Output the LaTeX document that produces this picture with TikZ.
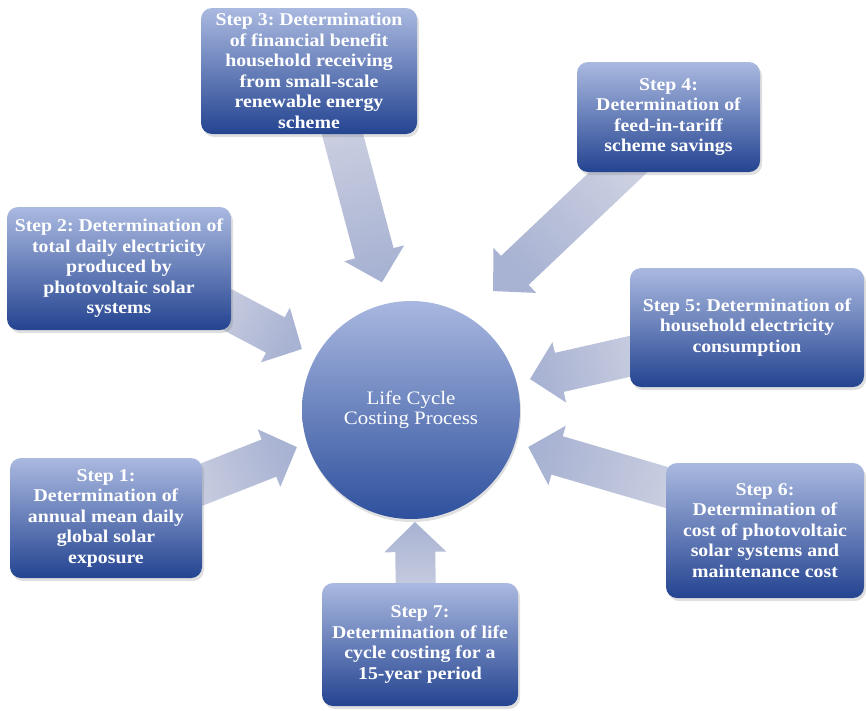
\documentclass[tikz,border=0pt]{standalone}
\usepackage{fontspec}
\setmainfont{Liberation Serif}[FakeStretch=1.1]
\frenchspacing
\usetikzlibrary{calc,shadows,backgrounds}

\definecolor{boxtop}{HTML}{AAB9E0}
\definecolor{boxbot}{HTML}{244491}
\definecolor{hubtop}{HTML}{A8B7DF}
\definecolor{hubbot}{HTML}{2E509D}
\definecolor{arrtail}{HTML}{D0D4E3}
\definecolor{arrtip}{HTML}{A8B2D2}

% Wide block arrow from the tail coordinate #1 to the tip coordinate #2
\newcommand\blockarrow[2]{%
  \pgfmathanglebetweenpoints{\pgfpointanchor{#1}{center}}{\pgfpointanchor{#2}{center}}%
  \edef\bAang{\pgfmathresult}%
  \pgfpointdiff{\pgfpointanchor{#1}{center}}{\pgfpointanchor{#2}{center}}%
  \pgfgetlastxy{\bAx}{\bAy}%
  \pgfmathsetmacro\bAlen{veclen(\bAx,\bAy)}%
  \pgfmathsetmacro\bAbase{\bAlen-30}%
  \pgfmathsetmacro\bAshade{\bAang-90}%
  \shade[top color=arrtip, bottom color=arrtail, shading angle=\bAshade]
    ($(#1)+(\bAang+90:20pt)$)
    -- ($(#1)+(\bAang:\bAbase pt)+(\bAang+90:20pt)$)
    -- ($(#1)+(\bAang:\bAbase pt)+(\bAang+90:31pt)$)
    -- (#2)
    -- ($(#1)+(\bAang:\bAbase pt)+(\bAang-90:31pt)$)
    -- ($(#1)+(\bAang:\bAbase pt)+(\bAang-90:20pt)$)
    -- ($(#1)+(\bAang-90:20pt)$) -- cycle;
}

\begin{document}
\begin{tikzpicture}[x=1pt,y=-1pt,
  stepbox/.style={rounded corners=11pt, top color=boxtop, bottom color=boxbot,
    text=white, align=center, inner sep=0pt,
    font=\bfseries\fontsize{18}{20.5}\selectfont,
    drop shadow={shadow xshift=2pt, shadow yshift=-3pt, opacity=0.25}},
  hub/.style={circle, top color=hubtop, bottom color=hubbot, text=white,
    align=center, minimum size=218pt, inner sep=0pt,
    font=\fontsize{19}{20.5}\selectfont,
    drop shadow={shadow xshift=1pt, shadow yshift=-3pt, opacity=0.25}}
]
\useasboundingbox (0,0) rectangle (866,710);

% central process
\node[hub] (c) at (411,410) {Life Cycle\\Costing Process};

% the seven steps
\node[stepbox, minimum width=216pt, minimum height=126pt] (s3) at (309,71)
  {Step 3: Determination\\of financial benefit\\household receiving\\from small-scale\\renewable energy\\scheme};
\node[stepbox, minimum width=183pt, minimum height=110pt] (s4) at (668.5,117)
  {Step 4:\\Determination of\\feed-in-tariff\\scheme savings};
\node[stepbox, minimum width=224pt, minimum height=123pt] (s2) at (119,268.5)
  {Step 2: Determination of\\total daily electricity\\produced by\\photovoltaic solar\\systems};
\node[stepbox, minimum width=234pt, minimum height=119pt] (s5) at (747,327.5)
  {Step 5: Determination of\\household electricity\\consumption};
\node[stepbox, minimum width=192pt, minimum height=120pt] (s1) at (106,518)
  {Step 1:\\Determination of\\annual mean daily\\global solar\\exposure};
\node[stepbox, minimum width=198pt, minimum height=135pt] (s6) at (765,530.5)
  {Step 6:\\Determination of\\cost of photovoltaic\\solar systems and\\maintenance cost};
\node[stepbox, minimum width=196pt, minimum height=123pt] (s7) at (420,644.5)
  {Step 7:\\Determination of life\\cycle costing for a\\15-year period};

% arrow tails (under the boxes) and tips (near the circle)
\coordinate (t1) at ($(s1.center)+(59,-19)$);
\coordinate (t2) at ($(s2.center)+(77,24.5)$);
\coordinate (t3) at ($(s3.center)+(23,24)$);
\coordinate (t4) at ($(s4.center)+(-21.5,28)$);
\coordinate (t5) at ($(s5.center)+(-76,19.5)$);
\coordinate (t6) at ($(s6.center)+(-59,-31.5)$);
\coordinate (t7) at ($(s7.center)+(-4,-34.5)$);
\coordinate (h1) at ($(c.center)+(198:120pt)$);
\coordinate (h2) at ($(c.center)+(150.8:125pt)$);
\coordinate (h3) at ($(c.center)+(102.8:131pt)$);
\coordinate (h4) at ($(c.center)+(55.4:144.5pt)$);
\coordinate (h5) at ($(c.center)+(14.6:123pt)$);
\coordinate (h6) at ($(c.center)+(-17.5:123pt)$);
\coordinate (h7) at ($(c.center)+(-88:112pt)$);

\begin{scope}[on background layer]
  \blockarrow{t1}{h1}
  \blockarrow{t2}{h2}
  \blockarrow{t3}{h3}
  \blockarrow{t4}{h4}
  \blockarrow{t5}{h5}
  \blockarrow{t6}{h6}
  \blockarrow{t7}{h7}
\end{scope}
\end{tikzpicture}
\end{document}
